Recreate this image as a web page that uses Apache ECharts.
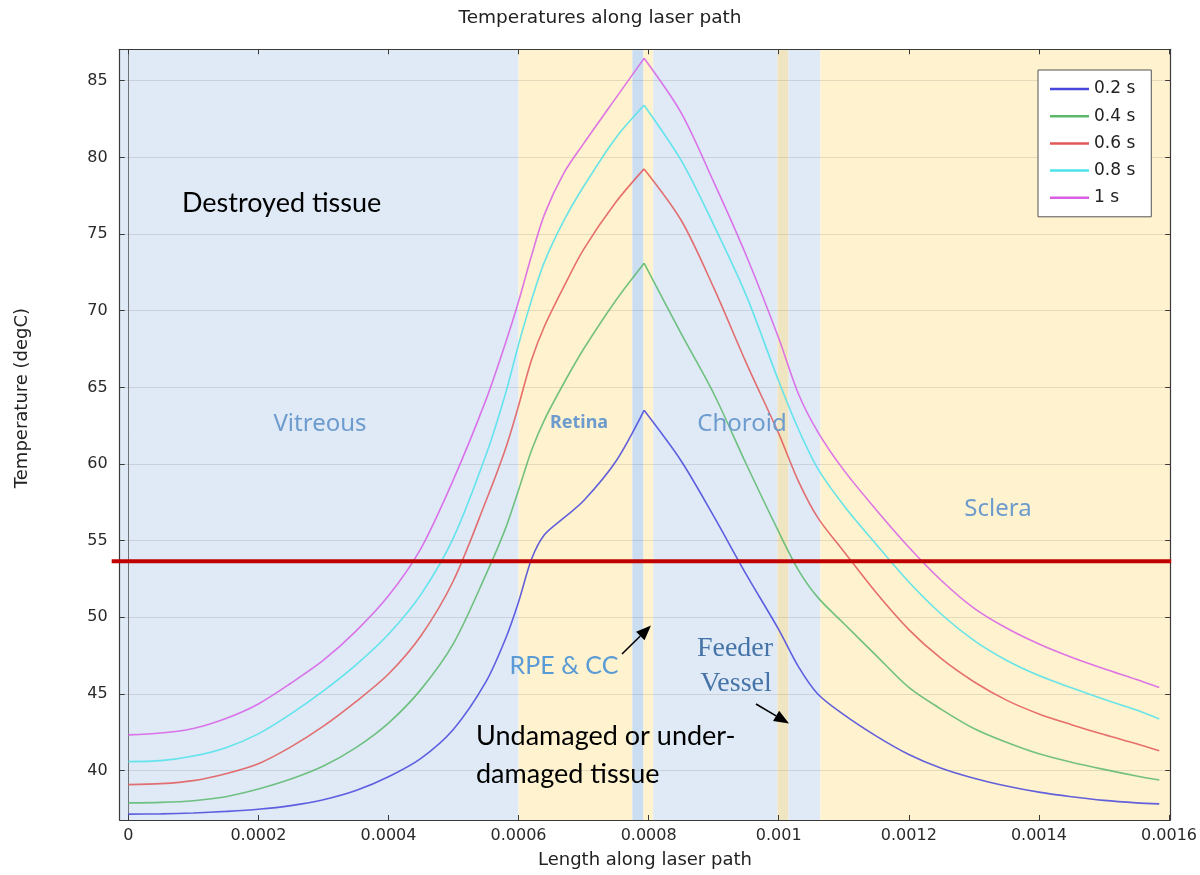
<!DOCTYPE html>
<html>
<head>
<meta charset="utf-8">
<script src="https://cdn.jsdelivr.net/npm/echarts@6/dist/echarts.min.js"></script>
<style>
  html, body { margin: 0; padding: 0; background: #ffffff; }
  #chart { width: 1200px; height: 875px; }
</style>
</head>
<body>
<div id="chart"></div>
<script>
// Position along the laser path (m)
const lengths = [0, 0.00005, 0.0001, 0.00015, 0.0002, 0.00025, 0.0003, 0.00035, 0.0004, 0.00045,
  0.0005, 0.00055, 0.00058, 0.0006, 0.00062, 0.00064, 0.00067, 0.0007, 0.00075, 0.000793,
  0.00085, 0.0009, 0.00095, 0.001, 0.00103, 0.00106, 0.0011, 0.00115, 0.0012, 0.00125,
  0.0013, 0.00135, 0.0014, 0.00145, 0.0015, 0.00155, 0.001585];

// Temperature (degC) at each position, one array per time step
const temp02 = [37.16, 37.18, 37.24, 37.34, 37.48, 37.72, 38.1, 38.7, 39.6, 40.8,
  42.7, 45.8, 48.6, 51.0, 53.8, 55.4, 56.5, 57.6, 60.2, 63.5,
  60.2, 56.6, 52.8, 49.2, 46.8, 45.0, 43.65, 42.25, 41.05, 40.15,
  39.5, 39.0, 38.6, 38.3, 38.06, 37.9, 37.83];
const temp04 = [37.9, 37.93, 38.04, 38.3, 38.8, 39.45, 40.3, 41.5, 43.1, 45.3,
  48.3, 52.8, 55.8, 58.3, 60.9, 62.9, 65.3, 67.5, 70.7, 73.1,
  68.5, 64.6, 60.0, 55.57, 53.1, 51.3, 49.6, 47.5, 45.43, 44.0,
  42.75, 41.85, 41.1, 40.55, 40.08, 39.65, 39.39];
const temp06 = [39.09, 39.15, 39.35, 39.8, 40.45, 41.55, 42.9, 44.5, 46.3, 48.8,
  52.4, 57.6, 61.0, 63.8, 66.8, 69.0, 71.6, 74.0, 77.1, 79.25,
  75.9, 71.5, 66.6, 61.98, 58.9, 56.5, 54.3, 51.6, 49.2, 47.3,
  45.8, 44.6, 43.7, 43.0, 42.35, 41.75, 41.3];
const temp08 = [40.59, 40.65, 40.95, 41.5, 42.4, 43.7, 45.2, 46.9, 48.9, 51.5,
  55.2, 60.6, 64.6, 67.8, 70.7, 73.2, 75.9, 78.1, 81.3, 83.4,
  79.8, 75.6, 71.0, 65.4, 62.3, 59.7, 57.3, 54.75, 52.3, 50.2,
  48.5, 47.2, 46.2, 45.4, 44.65, 43.95, 43.37];
const temp10 = [42.33, 42.45, 42.75, 43.4, 44.35, 45.7, 47.2, 49.1, 51.4, 54.5,
  59.0, 64.2, 67.9, 70.6, 73.6, 76.3, 79.0, 80.9, 83.9, 86.46,
  82.9, 78.4, 73.6, 68.2, 64.6, 62.1, 59.6, 57.0, 54.57, 52.4,
  50.6, 49.3, 48.26, 47.4, 46.65, 45.95, 45.43];

const seriesNames = ['0.2 s', '0.4 s', '0.6 s', '0.8 s', '1 s'];
const seriesValues = [temp02, temp04, temp06, temp08, temp10];

const xTicks = [0, 0.0002, 0.0004, 0.0006, 0.0008, 0.001, 0.0012, 0.0014, 0.0016];
const yTicks = [40, 45, 50, 55, 60, 65, 70, 75, 80, 85];

// Tissue layers along the path: [start, end, layer]
const layerBands = [
  [-0.0000132, 0.0006, 'fluid'],
  [0.0006, 0.000775, 'tissue'],
  [0.000775, 0.000792, 'rpe'],
  [0.000792, 0.000807, 'tissue'],
  [0.000807, 0.000998, 'fluid'],
  [0.000998, 0.001015, 'vessel'],
  [0.001015, 0.001064, 'fluid'],
  [0.001064, 0.0016018, 'tissue']
];

// Damage threshold temperature (degC)
const damageThreshold = 53.65;

const X_MIN = -0.0000132, X_MAX = 0.0016018;
const Y_MIN = 36.78, Y_MAX = 87.05;

const lineColors = ['#4646dc', '#5bb86b', '#e25858', '#4ee2ea', '#d95ee6'];
const bandColors = { fluid: '#dfeaf6', tissue: '#fff2cf', rpe: '#cbddf0', vessel: '#efe5c0' };
const uiFont = "'DejaVu Sans', sans-serif";

const chart = echarts.init(document.getElementById('chart'), null, { renderer: 'canvas' });

const frameAxis = (position, ticks, isX, showLabel) => ({
  type: 'value',
  position: position,
  min: isX ? X_MIN : Y_MIN,
  max: isX ? X_MAX : Y_MAX,
  z: 4,
  axisLine: { show: true, onZero: false, lineStyle: { color: '#3a3a3a', width: 1.2 } },
  axisTick: { show: true, inside: true, length: 5, customValues: ticks, lineStyle: { color: '#3a3a3a' } },
  axisLabel: showLabel ? {
    show: true, customValues: ticks,
    color: '#2a2a2a',
    fontFamily: uiFont,
    fontSize: 16,
    margin: isX ? 8 : 12,
    formatter: v => String(v)
  } : { show: false },
  splitLine: { show: false }
});

const bandSeries = {
  name: 'layers',
  type: 'line',
  data: [],
  silent: true,
  z: 0,
  markArea: {
    silent: true,
    z: 0,
    data: layerBands.map(b => [
      { xAxis: b[0], itemStyle: { color: bandColors[b[2]], borderWidth: 0 } },
      { xAxis: b[1] }
    ])
  },
  markLine: {
    silent: true,
    z: 1,
    symbol: ['none', 'none'],
    label: { show: false },
    animation: false,
    lineStyle: { color: 'rgba(90,90,90,0.16)', type: 'solid', width: 1 },
    data: xTicks.map(v => ({ xAxis: v })).concat(yTicks.map(v => ({ yAxis: v })))
  }
};

// Each curve is drawn as a rising and a falling branch that meet at the
// sharp maximum, so the smoothing never rounds off the peak.
const curveSeries = [];
seriesNames.forEach((name, k) => {
  const vals = seriesValues[k];
  let peak = 0;
  vals.forEach((v, i) => { if (v > vals[peak]) peak = i; });
  const pts = lengths.map((x, i) => [x, vals[i]]);
  [pts.slice(0, peak + 1), pts.slice(peak)].forEach(part => {
    curveSeries.push({
      name: name,
      type: 'line',
      z: 3,
      symbol: 'none',
      smooth: 0.3,
      data: part,
      lineStyle: { width: 1.6, color: lineColors[k], opacity: 0.85 },
      itemStyle: { color: lineColors[k] }
    });
  });
});

chart.setOption({
  animation: false,
  backgroundColor: '#ffffff',
  title: {
    text: 'Temperatures along laser path',
    left: 'center',
    top: 4,
    textStyle: { fontFamily: uiFont, fontSize: 18.5, fontWeight: 'normal', color: '#222' }
  },
  grid: { left: 119.7, right: 24, top: 49.3, bottom: 55, containLabel: false },
  xAxis: [
    Object.assign(frameAxis('bottom', xTicks, true, true), {
      name: 'Length along laser path',
      nameLocation: 'middle',
      nameGap: 31,
      nameTextStyle: { fontFamily: uiFont, fontSize: 18, color: '#222' }
    }),
    frameAxis('top', xTicks, true, false)
  ],
  yAxis: [
    frameAxis('left', yTicks, false, true),
    frameAxis('right', yTicks, false, false)
  ],
  legend: {
    data: seriesNames,
    orient: 'vertical',
    left: 1038,
    top: 70,
    icon: 'rect',
    itemWidth: 39,
    itemHeight: 2.5,
    itemGap: 9.2,
    padding: [10, 16, 10, 12],
    backgroundColor: '#ffffff',
    borderColor: '#555555',
    borderWidth: 1,
    borderRadius: 0,
    textStyle: { fontFamily: uiFont, fontSize: 17, color: '#222', lineHeight: 18 }
  },
  series: [bandSeries].concat(curveSeries)
});

// Annotation layer: layer names, damage regions, arrows and the threshold line
const thresholdY = chart.convertToPixel({ yAxisIndex: 0 }, damageThreshold);
const leftEdge = chart.convertToPixel({ xAxisIndex: 0 }, X_MIN);
const rightEdge = chart.convertToPixel({ xAxisIndex: 0 }, X_MAX);

const layerText = (text, x, y, size, weight) => ({
  type: 'text', x: x, y: y, z: 20,
  style: {
    text: text, align: 'center', verticalAlign: 'middle',
    font: (weight || 'normal') + ' ' + size + "px 'Noto Sans', sans-serif",
    fill: '#6d9bcd',
    shadowColor: 'rgba(60,100,150,0.55)', shadowBlur: 3, shadowOffsetX: 1, shadowOffsetY: 1
  }
});
const noteText = (text, x, y, align, font, color) => ({
  type: 'text', x: x, y: y, z: 20,
  style: { text: text, align: align, verticalAlign: 'middle', font: font, fill: color }
});
const arrow = (x1, y1, x2, y2) => {
  const a = Math.atan2(y2 - y1, x2 - x1), len = 15, half = 6;
  const bx = x2 - len * Math.cos(a), by = y2 - len * Math.sin(a);
  return [
    { type: 'line', z: 20, shape: { x1: x1, y1: y1, x2: bx, y2: by }, style: { stroke: '#000', lineWidth: 1.6 } },
    { type: 'polygon', z: 20, shape: { points: [
        [x2, y2],
        [bx + half * Math.sin(a), by - half * Math.cos(a)],
        [bx - half * Math.sin(a), by + half * Math.cos(a)]
      ] }, style: { fill: '#000' } }
  ];
};

const bodyFont = "27px Lato, 'Open Sans', sans-serif";
const serifFont = "28px 'Liberation Serif', serif";
chart.setOption({
  graphic: [
    {
      type: 'text', x: 22, y: 398, rotation: Math.PI / 2, z: 20,
      style: { text: 'Temperature (degC)', align: 'center', verticalAlign: 'middle',
        font: "18px " + uiFont, fill: '#222' }
    },
    { type: 'line', z: 25, shape: { x1: leftEdge - 8, y1: thresholdY, x2: rightEdge + 1, y2: thresholdY },
      style: { stroke: '#c00000', lineWidth: 4 } },
    noteText('Destroyed tissue', 182, 203, 'left', bodyFont, '#000'),
    noteText('Undamaged or under-', 476, 736, 'left', bodyFont, '#000'),
    noteText('damaged tissue', 476, 774, 'left', bodyFont, '#000'),
    noteText('RPE & CC', 564, 666, 'center', "25px Lato, 'Open Sans', sans-serif", '#5b9bd5'),
    noteText('Feeder', 735, 649, 'center', serifFont, '#4674a8'),
    noteText('Vessel', 736, 684, 'center', serifFont, '#4674a8'),
    layerText('Vitreous', 320, 424, 24),
    layerText('Retina', 579, 423, 18, 'bold'),
    layerText('Choroid', 742, 424, 24),
    layerText('Sclera', 998, 509, 24)
  ].concat(arrow(622, 654, 651, 625.5), arrow(756, 704, 789, 723.5))
});
</script>
</body>
</html>
